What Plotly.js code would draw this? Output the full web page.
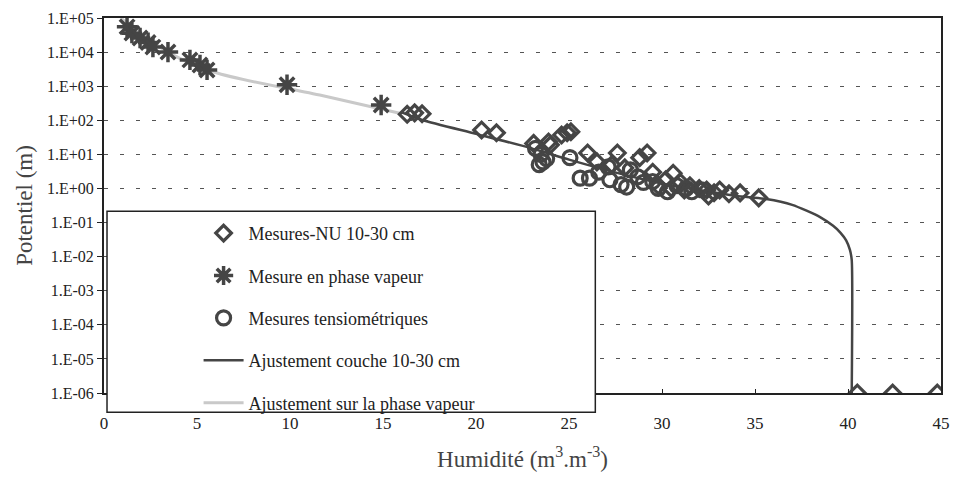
<!DOCTYPE html>
<html>
<head>
<meta charset="utf-8">
<script src="https://cdn.plot.ly/plotly-3.0.1.min.js"></script>
<style>html,body{margin:0;padding:0;background:#fff;}#chart{width:954px;height:481px;}</style>
</head>
<body>
<div id="chart"></div>
<script>
// Mesures-NU 10-30 cm (diamonds)
const nuX = [16.3, 16.7, 17.1, 20.3, 21.1, 23.1, 23.9, 24.0, 24.6, 24.9, 25.1,
  26.0, 27.6, 28.8, 29.2, 26.5, 27.3, 28.0, 29.5, 30.6, 30.2, 31.0, 31.5, 32.0,
  32.4, 32.8, 33.1, 33.6, 34.2, 35.2, 29.8, 30.5, 31.2, 32.5, 40.5, 42.4, 44.8];
const nuY = [150, 165, 155, 52, 43, 21, 23, 19, 37, 43, 46,
  11, 11, 8, 11, 6, 5, 4, 3, 2.8, 1.8, 1.5, 1.2, 1.0,
  0.9, 0.75, 0.9, 0.7, 0.74, 0.53, 1.2, 1.0, 0.9, 0.6, 1e-6, 1e-6, 1e-6];

// Mesure en phase vapeur (asterisks)
const vapX = [1.24, 1.5, 1.94, 2.37, 2.63, 3.44, 4.62, 5.16, 5.54, 9.84, 14.9];
const vapY = [55000, 36000, 26000, 19000, 14000, 10000, 5900, 4200, 3000, 1100, 280];

// Mesures tensiométriques (circles)
const tenX = [23.2, 23.5, 23.6, 23.8, 23.4, 25.05, 25.6, 26.1, 27.1, 27.2, 28.1,
  28.3, 28.7, 29.0, 29.5, 29.8, 30.3, 30.8, 31.3, 31.6, 32.2, 26.6, 27.8];
const tenY = [15, 10, 6, 7.5, 5, 8, 2, 2, 4.3, 1.8, 1.1,
  3.5, 2.2, 1.5, 1.6, 1.0, 0.8, 1.2, 1.0, 0.8, 0.9, 3, 1.3];

// Ajustement couche 10-30 cm
const fitX = [16.0, 17.15, 20, 22.9, 25, 28, 30, 32, 34, 35.6, 37, 38.5, 39.2, 39.6, 39.9, 40.1, 40.2, 40.2];
const fitY = [170, 100, 40, 15.5, 7, 2.5, 1.4, 0.9, 0.6, 0.49, 0.33, 0.145, 0.08, 0.05, 0.03, 0.016, 0.008, 1e-6];

// Ajustement sur la phase vapeur (light grey curve)
const vfitX = [0.9, 2.5, 3.5, 5.9, 11.6, 15.9];
const vfitY = [100000, 22000, 9500, 2600, 550, 160];

// Axis tick labels
const yTickVals = [1e-6, 1e-5, 1e-4, 1e-3, 1e-2, 1e-1, 1, 10, 100, 1000, 10000, 100000];
const yTickText = ['1.E-06', '1.E-05', '1.E-04', '1.E-03', '1.E-02', '1.E-01',
  '1.E+00', '1.E+01', '1.E+02', '1.E+03', '1.E+04', '1.E+05'];

const names = ['Mesures-NU 10-30 cm', 'Mesure en phase vapeur', 'Mesures tensiométriques',
  'Ajustement couche 10-30 cm', 'Ajustement sur la phase vapeur'];

const dark = '#454545';
const serif = 'Liberation Serif';

const traces = [
  {x: vfitX, y: vfitY, mode: 'lines', name: names[4], legendrank: 5, legendgroup: 'g5',
   line: {color: '#c9c9c9', width: 3, shape: 'spline'}},
  {x: fitX, y: fitY, mode: 'lines', name: names[3], legendrank: 4, legendgroup: 'g4',
   line: {color: dark, width: 2.5, shape: 'spline', smoothing: 0.6}},
  {x: nuX, y: nuY, mode: 'markers', name: names[0], legendrank: 1, legendgroup: 'g1',
   marker: {symbol: 'diamond-open', size: 12, color: dark, line: {width: 3.2, color: dark}}},
  {x: vapX, y: vapY, mode: 'markers', name: names[1], legendrank: 2, legendgroup: 'g2',
   marker: {symbol: 'asterisk-open', size: 17, color: dark, line: {width: 3.5, color: dark}}},
  {x: tenX, y: tenY, mode: 'markers', name: names[2], legendrank: 3, legendgroup: 'g3',
   marker: {symbol: 'circle-open', size: 14, color: dark, line: {width: 3.2, color: dark}}}
];

const layout = {
  width: 954, height: 481,
  margin: {l: 104, r: 13, t: 18, b: 88},
  paper_bgcolor: '#fff', plot_bgcolor: '#fff',
  font: {family: serif, color: '#222'},
  showlegend: true,
  legend: {x: 0.113, y: 0.475, xanchor: 'left', yanchor: 'top', bgcolor: 'rgba(0,0,0,0)',
    borderwidth: 0, font: {family: serif, size: 18, color: '#222'}, tracegroupgap: 16,
    traceorder: 'grouped', itemwidth: 40},
  xaxis: {range: [0, 45], dtick: 5, tick0: 0, showgrid: false, zeroline: false,
    showline: true, linecolor: '#222', linewidth: 2, mirror: true,
    ticks: 'inside', ticklen: 4, tickcolor: '#222', ticklabelstandoff: 14,
    tickfont: {family: serif, size: 17, color: '#222'},
    title: {text: 'Humidité (m<sup>3</sup>.m<sup>-3</sup>)', font: {family: serif, size: 23, color: '#444'}, standoff: 18}},
  yaxis: {type: 'log', range: [-6, 5], tickvals: yTickVals, ticktext: yTickText,
    showgrid: true, gridcolor: '#555', gridwidth: 1, griddash: '4px,12px',
    zeroline: false, showline: true, linecolor: '#222', linewidth: 2, mirror: true,
    ticks: 'outside', ticklen: 5, tickcolor: '#222',
    tickfont: {family: serif, size: 16, color: '#222'},
    title: {text: 'Potentiel (m)', font: {family: serif, size: 23, color: '#444'}, standoff: 8}},
  shapes: [
    {type: 'rect', xref: 'paper', yref: 'paper', x0: 0.0036, x1: 0.587, y0: -0.051, y1: 0.485,
     fillcolor: '#fff', line: {color: '#222', width: 1.5}, layer: 'above'}
  ]
};

Plotly.newPlot('chart', traces, layout, {displayModeBar: false, staticPlot: true});
</script>
</body>
</html>
